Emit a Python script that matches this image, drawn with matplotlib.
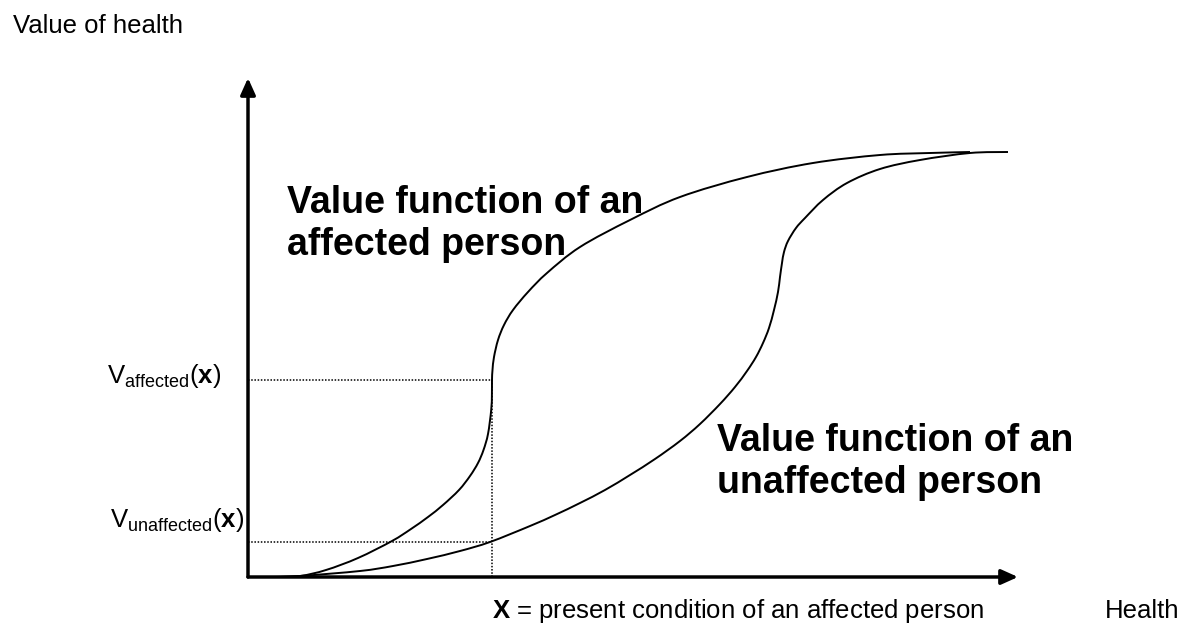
import matplotlib
matplotlib.use('Agg')
import numpy as np
from matplotlib import pyplot as plt
from matplotlib.path import Path
from matplotlib.patches import PathPatch

plt.rcParams['font.family'] = ['Liberation Sans', 'DejaVu Sans']
plt.rcParams['mathtext.fontset'] = 'custom'
plt.rcParams['mathtext.rm'] = 'Liberation Sans'
plt.rcParams['mathtext.it'] = 'Liberation Sans:italic'
plt.rcParams['mathtext.bf'] = 'Liberation Sans:bold'

# health (x) and value (y) in diagram units, origin at the axes corner
affected_x = [27, 52, 78, 110, 144, 163, 180, 195, 211, 222, 230, 235.5, 240,
              243.2, 243.9, 244, 244.5, 246, 250, 256, 265, 280, 299, 332, 382,
              432, 499, 565, 632, 682, 722]
affected_y = [0, 1, 7, 19, 36, 48, 60, 72, 87, 101, 114, 127, 143,
              167, 182, 197, 207, 220, 237, 252, 267, 285, 304, 330, 357,
              380, 400, 414, 422, 424, 425]

unaffected_x = [22, 52, 112, 145, 179, 212, 242, 282, 307, 332, 357, 382, 407,
                432, 452, 472, 487, 499, 508, 515, 521, 526, 530, 532, 534,
                536, 540, 548, 557, 575, 599, 632, 672, 722, 760]
unaffected_y = [0, 1, 6, 11, 18, 26, 35, 51, 62, 74, 87, 102, 118,
                136, 153, 173, 190, 206, 220, 234, 249, 267, 285, 300, 314,
                325, 336, 349, 359, 377, 394, 408, 417, 424, 425]

x_point = 244          # present condition of an affected person
v_affected = 197
v_unaffected = 35
x_axis_end = 770
y_axis_end = 499


def smooth_path(xs, ys):
    # Catmull-Rom through the read points, drawn as cubic bezier segments
    p = np.column_stack([xs, ys]).astype(float)
    verts = [p[0]]
    codes = [Path.MOVETO]
    n = len(p)
    for i in range(n - 1):
        p0 = p[i - 1] if i > 0 else p[i]
        p1 = p[i]
        p2 = p[i + 1]
        p3 = p[i + 2] if i + 2 < n else p[i + 1]
        verts += [p1 + (p2 - p0) / 6, p2 - (p3 - p1) / 6, p2]
        codes += [Path.CURVE4] * 3
    return Path(verts, codes)


fig = plt.figure(figsize=(11.87, 6.24), dpi=100)
ax = fig.add_axes([0, 0, 1, 1])
ax.set_xlim(-248, 939)
ax.set_ylim(-47, 577)
ax.axis('off')

# axes with arrow heads
arrow = dict(arrowstyle='-|>,head_length=1.0,head_width=0.45', lw=2.5,
             color='black', shrinkA=0, shrinkB=0)
ax.annotate('', xy=(0, y_axis_end), xytext=(0, 0), arrowprops=arrow)
ax.annotate('', xy=(x_axis_end, 0), xytext=(0, 0), arrowprops=arrow)

# value functions
for xs, ys in [(affected_x, affected_y), (unaffected_x, unaffected_y)]:
    ax.add_patch(PathPatch(smooth_path(xs, ys), facecolor='none',
                           edgecolor='black', lw=1.4))

# dotted guides
dots = dict(color='black', lw=1.1, linestyle=(0, (1, 1.1)))
ax.plot([0, x_point], [v_affected, v_affected], **dots)
ax.plot([0, x_point], [v_unaffected, v_unaffected], **dots)
ax.plot([x_point, x_point], [0, v_affected], **dots)

# texts
ax.text(-235, 544, 'Value of health', fontsize=18.5, va='baseline')
ax.text(857, -41, 'Health', fontsize=18.5, va='baseline')
ax.text(x_point, -41, r'$\mathbf{X}$ = present condition of an affected person',
        fontsize=18.5, va='baseline')
ax.text(-141, 194, r'$\mathrm{V}_{\mathrm{affected}}(\mathbf{x})$',
        fontsize=18.5, va='baseline')
ax.text(-138, 50, r'$\mathrm{V}_{\mathrm{unaffected}}(\mathbf{x})$',
        fontsize=18.5, va='baseline')
ax.text(39, 322, 'Value function of an\naffected person', fontsize=27,
        fontweight='bold', va='baseline')
ax.text(469, 84, 'Value function of an\nunaffected person', fontsize=27,
        fontweight='bold', va='baseline')

plt.savefig('out.png', dpi=100)
